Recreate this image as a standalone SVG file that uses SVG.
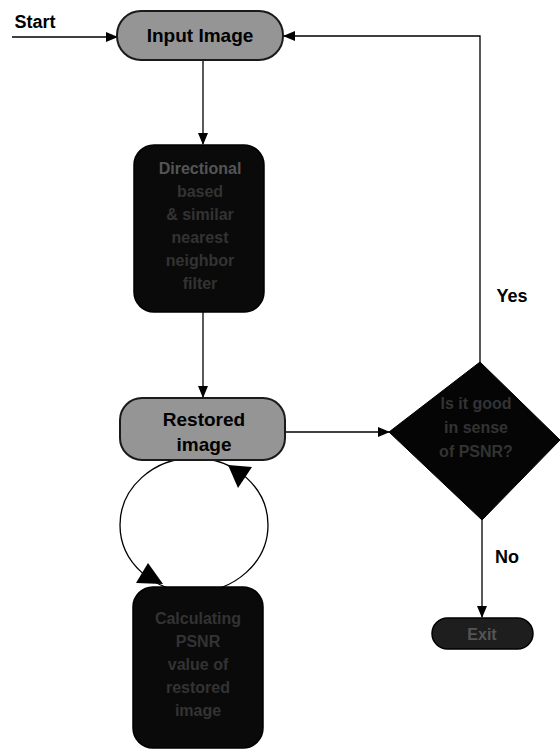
<svg xmlns="http://www.w3.org/2000/svg" width="560" height="756" viewBox="0 0 560 756">
<defs>
<marker id="ah" markerWidth="12" markerHeight="10" refX="11" refY="5" orient="auto" markerUnits="userSpaceOnUse">
<path d="M0,0 L12,5 L0,10 Z" fill="#000"/>
</marker>
<style>
text{font-family:"Liberation Sans",Arial,sans-serif;font-weight:bold;text-anchor:middle}
.lab{font-size:18px;fill:#000}
.big{font-size:19px;fill:#000}
.gray{fill:#959595;stroke:#1a1a1a;stroke-width:2}
.dark{fill:#0a0a0a;stroke:#000;stroke-width:1.5}
.dt{font-size:16px;fill:#333}
.ln{stroke:#000;stroke-width:1.3;fill:none}
</style>
</defs>
<rect width="560" height="756" fill="#fff"/>
<g id="connectors">
<line class="ln" x1="12" y1="37" x2="117" y2="37" marker-end="url(#ah)"/>
<line class="ln" x1="203" y1="60" x2="203" y2="144" marker-end="url(#ah)"/>
<line class="ln" x1="203" y1="312" x2="203" y2="397" marker-end="url(#ah)"/>
<line class="ln" x1="285" y1="432" x2="389" y2="432" marker-end="url(#ah)"/>
<polyline class="ln" points="480,363 480,36 284,36" marker-end="url(#ah)"/>
<line class="ln" x1="482" y1="520" x2="482" y2="617" marker-end="url(#ah)"/>
<ellipse class="ln" cx="194" cy="525" rx="74" ry="67"/>
<polygon points="228,465 252,467 238,488" fill="#000"/>
<polygon points="148,563 136,583 163,584" fill="#000"/>
</g>
<g id="start"><text class="lab" x="35" y="28">Start</text></g>
<g id="input"><rect class="gray" x="117" y="11" width="166" height="49" rx="24"/><text class="big" x="200" y="42">Input Image</text></g>
<g id="filter"><rect class="dark" x="134" y="145" width="130" height="167" rx="20"/>
<text class="dt" x="200" y="174" style="fill:#555">Directional</text>
<text class="dt" x="200" y="197">based</text>
<text class="dt" x="200" y="220">&amp; similar</text>
<text class="dt" x="200" y="243">nearest</text>
<text class="dt" x="200" y="266">neighbor</text>
<text class="dt" x="200" y="289">filter</text></g>
<g id="restored"><rect class="gray" x="120" y="398" width="165" height="62" rx="22"/><text class="big" x="204" y="426">Restored</text><text class="big" x="204" y="451">image</text></g>
<g id="decision"><polygon points="389,432 480,362 560,440 482,520" fill="#050505" stroke="#000"/>
<text class="dt" x="476" y="409">Is it good</text>
<text class="dt" x="476" y="433">in sense</text>
<text class="dt" x="476" y="457">of PSNR?</text></g>
<g id="yes"><text class="lab" x="512" y="302">Yes</text></g>
<g id="no"><text class="lab" x="507" y="563">No</text></g>
<g id="exit"><rect x="432" y="618" width="101" height="31" rx="15.5" fill="#1e1e1e" stroke="#000" stroke-width="1.5"/><text class="dt" x="482" y="640" style="fill:#555">Exit</text></g>
<g id="psnr"><rect class="dark" x="133" y="587" width="130" height="161" rx="20"/>
<text class="dt" x="198" y="624">Calculating</text>
<text class="dt" x="198" y="647">PSNR</text>
<text class="dt" x="198" y="670">value of</text>
<text class="dt" x="198" y="693">restored</text>
<text class="dt" x="198" y="716">image</text></g>
</svg>
